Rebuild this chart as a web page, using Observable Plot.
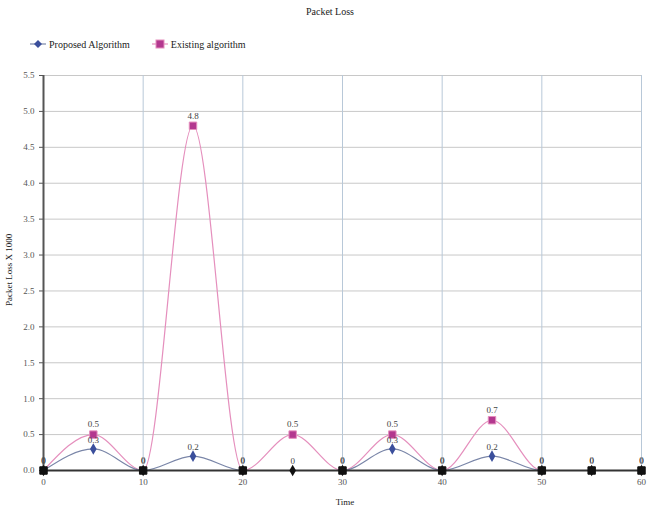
<!DOCTYPE html>
<html>
<head>
<meta charset="utf-8">
<script src="https://cdn.jsdelivr.net/npm/d3@7"></script>
<script src="https://cdn.jsdelivr.net/npm/@observablehq/plot@0.6"></script>
<style>
  body { margin: 0; background: #fff; font-family: "Liberation Serif", serif; }
  #wrap { width: 648px; height: 512px; position: relative; overflow: hidden; }
  #title { position: absolute; top: 6px; left: 0; width: 660px; text-align: center; font-size: 10px; color: #222; }
  #legend { position: absolute; top: 38px; left: 30px; font-size: 10px; color: #222; display: flex; gap: 22px; }
  .item { display: flex; align-items: center; gap: 3px; }
  #chart { position: absolute; top: 60px; left: 0; }
  #ylab { position: absolute; left: 4px; top: 215px; height: 110px; writing-mode: vertical-rl; transform: rotate(180deg); text-align: center; font-size: 9px; color: #222; white-space: nowrap; }
  #xlab { position: absolute; left: 320px; width: 50px; top: 497px; text-align: center; font-size: 9px; color: #222; }
</style>
</head>
<body>
<div id="wrap">
  <div id="title">Packet Loss</div>
  <div id="legend">
    <div class="item"><svg width="16" height="10"><line x1="0" y1="5" x2="16" y2="5" stroke="#7a86a8" stroke-width="1.2"/><path d="M8 1 L12 5 L8 9 L4 5 Z" fill="#3b4f9c"/></svg><span>Proposed Algorithm</span></div>
    <div class="item"><svg width="16" height="12"><line x1="0" y1="6" x2="16" y2="6" stroke="#e58fbd" stroke-width="1.2"/><rect x="4" y="2" width="8" height="8" fill="#b3388f" stroke="#e58fbd"/></svg><span>Existing algorithm</span></div>
  </div>
  <div id="chart"></div>
  <div id="ylab">Packet Loss X 1000</div>
  <div id="xlab">Time</div>
</div>
<script>
const times = [0, 5, 10, 15, 20, 25, 30, 35, 40, 45, 50, 55, 60];
const proposed = [0, 0.3, 0, 0.2, 0, 0, 0, 0.3, 0, 0.2, 0, 0, 0];
const existing = [0, 0.5, 0, 4.8, 0, 0.5, 0, 0.5, 0, 0.7, 0, 0, 0];
const xTicks = [0, 10, 20, 30, 40, 50, 60];
const yTicks = [0, 0.5, 1, 1.5, 2, 2.5, 3, 3.5, 4, 4.5, 5, 5.5];

const propData = times.map((t, i) => ({t, v: proposed[i]}));
const exData = times.map((t, i) => ({t, v: existing[i]}));

const plot = Plot.plot({
  width: 648,
  height: 452,
  marginLeft: 43,
  marginRight: 7,
  marginTop: 15,
  marginBottom: 42,
  style: {fontFamily: "Liberation Serif, serif", fontSize: "9px", color: "#555", background: "transparent"},
  x: {domain: [0, 60], ticks: xTicks, label: null, tickSize: 0, tickPadding: 8},
  y: {domain: [0, 5.5], ticks: yTicks, tickFormat: d3.format(".1f"), label: null, tickSize: 4},
  marks: [
    Plot.gridY(yTicks, {stroke: "#c8c8c8", strokeOpacity: 1}),
    Plot.gridX(xTicks.slice(1), {stroke: "#b8c8d8", strokeOpacity: 1}),
    Plot.line(exData, {x: "t", y: "v", curve: "monotone-x", stroke: "#e58fbd", strokeWidth: 1.2}),
    Plot.line(propData, {x: "t", y: "v", curve: "monotone-x", stroke: "#7a86a8", strokeWidth: 1.2}),
    Plot.ruleY([0], {stroke: "#333", strokeWidth: 2}),
    Plot.ruleX([0], {stroke: "#555", strokeWidth: 2}),
    Plot.dot(propData, {x: "t", y: "v", symbol: "diamond", r: 3.5, fill: d => d.v === 0 ? "#111" : "#3b4f9c", stroke: "none"}),
    Plot.dot(exData, {x: "t", y: "v", symbol: "square", r: 4.2, fill: d => d.v === 0 ? "#111" : "#b3388f", stroke: d => d.v === 0 ? "#111" : "#e58fbd", strokeWidth: 1}),
    Plot.text(propData, {x: "t", y: "v", text: d => String(d.v), dy: -9, fill: "#444", fontSize: 9}),
    Plot.text(exData, {x: "t", y: "v", text: d => String(d.v), dy: -10, fill: "#444", fontSize: 9})
  ]
});
document.getElementById("chart").appendChild(plot);
</script>
</body>
</html>
